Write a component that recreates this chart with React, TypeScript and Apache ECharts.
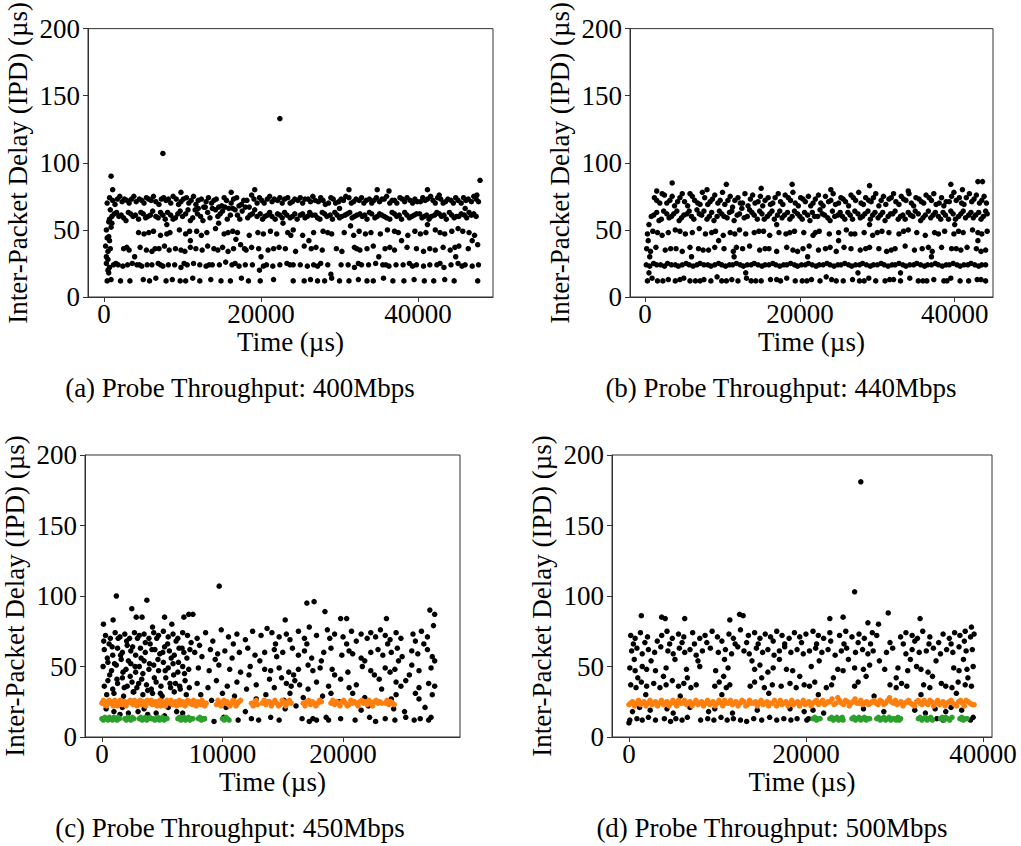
import React, { useEffect, useRef } from "react";
import * as echarts from "echarts";

const FONT = "'Liberation Serif', 'Times New Roman', serif";

const yTicks = [0, 50, 100, 150, 200];
const xTicksA = [0, 20000, 40000];
const xTicksB = [0, 20000, 40000];
const xTicksC = [0, 10000, 20000];
const xTicksD = [0, 20000, 40000];
const xTitle = "Time (µs)";
const yTitle = "Inter-Packet Delay (IPD) (µs)";
const captions = [
  "(a) Probe Throughput: 400Mbps",
  "(b) Probe Throughput: 440Mbps",
  "(c) Probe Throughput: 450Mbps",
  "(d) Probe Throughput: 500Mbps",
];

// (a) 400Mbps — time (µs), IPD (µs)
const a400: number[][] = [
  [400,70],[1100,72],[1700,73],[2300,71],[2900,72],[3500,73],[4100,71],[4800,72],[5400,74],[6000,72],[6600,71],[7300,73],[7900,72],[8500,70],[9200,73],[9800,71],[10500,74],[11100,72],[11700,69],[12400,73],[13000,71],[13700,70],[14300,73],[15000,68],[15600,72],[16200,70],[16900,74],[17500,69],[18200,72],[18800,76],[19500,70],[20100,72],[20800,73],[21400,71],[22100,72],[22700,70],[23400,74],[24000,71],[24700,72],[25300,70],[26000,73],[26600,75],[27300,71],[27900,72],[28600,70],[29200,73],[29900,71],[30500,72],[31200,74],[31800,71],[32500,72],[33100,70],[33800,73],[34400,72],[35100,71],[35700,73],[36400,70],[37000,72],[37700,74],[38300,71],[39000,72],[39600,73],[40300,71],[40900,72],[41600,75],[42200,70],[42900,73],[43500,71],[44200,72],[44800,74],[45500,70],[46100,72],[46800,71],[47400,73],
  [700,58],[1300,62],[1900,60],[2500,59],[3100,63],[3700,60],[4400,58],[5000,62],[5600,60],[6200,64],[6900,59],[7500,61],[8100,63],[8800,58],[9400,62],[10000,60],[10700,65],[11300,59],[11900,62],[12600,57],[13200,63],[13800,66],[14500,60],[15100,64],[15700,58],[16400,66],[17000,61],[17600,64],[18300,59],[18900,62],[19500,60],[20200,58],[20800,61],[21400,60],[22100,62],[22700,59],[23300,61],[24000,60],[24600,58],[25300,62],[25900,60],[26500,61],[27200,59],[27800,63],[28400,60],[29100,58],[29700,61],[30300,60],[31000,62],[31600,59],[32200,61],[32900,60],[33500,58],[34100,62],[34800,60],[35400,61],[36000,59],[36700,63],[37300,60],[37900,58],[38600,61],[39200,60],[39800,62],[40500,59],[41100,61],[41700,60],[42400,63],[43000,60],[43600,58],[44300,61],[44900,60],[45500,62],[46200,59],[46800,61],[47400,60],
  [300,50],[600,45],[900,52],[4400,48],[5100,47],[6300,49],[7200,46],[8400,48],[9600,50],[10400,47],[11800,49],[12400,46],[13100,48],[14200,51],[15300,47],[16400,49],[17000,48],[18500,46],[19600,48],[21200,49],[22000,47],[23400,48],[24100,50],[25300,46],[26700,48],[27900,49],[29000,47],[30600,48],[31800,46],[32500,49],[34000,48],[35200,47],[36100,50],[37500,48],[38700,46],[39600,49],[41000,48],[42200,50],[43400,47],[44300,49],[45100,51],[46500,48],[47200,46],
  [200,38],[500,34],[800,36],[2500,36],[3200,35],[4600,37],[5400,35],[6100,34],[7000,36],[7700,38],[8300,35],[9100,36],[10300,34],[11000,37],[11700,36],[12500,35],[13200,38],[14000,36],[15100,37],[15800,34],[16500,36],[17400,39],[18100,35],[18800,37],[19700,36],[20900,35],[22300,37],[23100,36],[24400,34],[25500,38],[26400,36],[27800,35],[29600,36],[30300,34],[31900,37],[32600,35],[33500,36],[34300,38],[35800,36],[37000,35],[38600,37],[39800,36],[40700,34],[41500,36],[43200,37],[44100,35],[45200,38],[46400,36],[47600,39],
  [300,25],[700,22],[1200,24],[1800,24],[2400,23],[3000,24],[3600,25],[4200,24],[4800,23],[5500,24],[6100,24],[6900,25],[7500,23],[8200,24],[9000,24],[9800,22],[10600,24],[11400,25],[12200,24],[13000,23],[13800,24],[14700,24],[15500,26],[16300,24],[17200,23],[18000,24],[18900,24],[19800,20],[20700,24],[21500,23],[22400,24],[23300,25],[24100,24],[25000,24],[25900,23],[26700,24],[27600,25],[28500,24],[30200,24],[31100,24],[31900,22],[32800,24],[33700,24],[34600,25],[35500,24],[36300,23],[37200,24],[38100,24],[38900,25],[39800,24],[40700,23],[41500,24],[42400,24],[43300,22],[44200,24],[45100,25],[46000,24],[46900,23],[47700,24],
  [400,12],[900,13],[2100,12],[3300,12],[5000,13],[5800,12],[6600,14],[7900,12],[8700,13],[9700,12],[10400,12],[11300,14],[12200,12],[13600,13],[14900,12],[16100,12],[17500,14],[18400,12],[19900,12],[21600,13],[24100,12],[25500,12],[26300,13],[27200,12],[28100,12],[29000,14],[30000,12],[31200,12],[32400,13],[33500,12],[34300,12],[35600,14],[36800,12],[38200,12],[39500,13],[40800,12],[42000,12],[43400,13],[44600,12],[47600,12],
  [600,18],[500,28],[700,42],[1000,55],[3900,30],[8000,54],[11000,42],[14600,55],[16800,43],[20000,30],[22800,55],[26100,42],[28900,17],[31400,53],[35000,30],[37900,42],[41200,54],[44800,30],[46900,42],[46000,66],[12000,66],[30000,66],
  [900,90],[1100,80],[7500,107],[9800,78],[16200,78],[19200,80],[22400,133],[31200,80],[34800,80],[36300,79],[41200,80],[42700,76],[47500,76],[47900,87],
];
const a400More: number[][] = [
  [700,74],[1400,69],[2000,75],[2600,73],[3200,70],[3800,75],[4500,73],[5100,70],[5700,73],[6300,75],[7000,69],[7600,74],[8200,73],[8800,75],[9500,69],[10100,73],[10800,70],[11400,75],[12000,72],[12700,67],[13300,74],[14000,72],[14600,67],[15300,74],[15900,66],[16500,73],[17200,68],[17800,72],[18500,67],[19100,73],[19800,74],[20400,70],[21100,75],[21700,73],[22400,74],[23000,73],[23700,70],[24300,73],[25000,74],[25600,73],[26300,71],[26900,72],[27600,74],[28200,69],[28900,74],[29500,70],[30200,73],[30800,75],[31500,70],[32100,73],[32800,74],[33400,72],[34100,70],[34700,74],[35400,73],[36000,75],[36700,72],[37300,70],[38000,73],[38600,74],[39300,70],[39900,71],[40600,74],[41200,73],[41900,72],[42500,74],[43200,70],[43800,73],[44500,70],[45100,72],[45800,74],[46400,73],[47100,75],[47700,71],
  [1000,60],[1600,63],[2200,61],[2800,57],[3400,62],[4000,61],[4700,63],[5300,59],[5900,61],[6600,60],[7200,63],[7800,58],[8500,61],[9100,59],[9700,64],[10400,62],[11000,57],[11600,65],[12300,60],[12900,67],[13500,59],[14200,65],[14800,62],[15400,67],[16100,61],[16700,65],[17300,58],[18000,67],[18600,61],[19200,65],[19900,62],[20500,60],[21100,63],[21800,58],[22400,61],[23000,63],[23700,59],[24300,62],[25000,61],[25600,59],[26200,63],[26900,61],[27500,58],[28100,62],[28800,61],[29400,63],[30000,59],[30700,61],[31300,63],[31900,60],[32600,62],[33200,61],[33800,63],[34500,59],[35100,62],[35700,60],[36400,58],[37000,62],[37600,61],[38300,63],[38900,59],[39500,61],[40200,62],[40800,60],[41400,58],[42100,61],[42700,62],[43300,61],[44000,63],[44600,59],[45200,60],[45900,61],[46500,63],[47100,62],
  [300,30],[400,44],[600,56],[800,65],[500,20],
  [5700,48],[8000,47],[10900,49],[15800,48],[20300,47],[23800,46],[28500,48],[33300,47],[37000,49],[40300,47],[42800,48],[45700,49],
  [2900,37],[6500,36],[9800,35],[14500,35],[17900,36],[21600,36],[27000,37],[32200,36],[36400,37],[42200,35],[44700,37],
  [1500,25],[4500,24],[7200,24],[10200,25],[13400,24],[16700,25],[20300,23],[23700,24],[27200,23],[32400,25],[35900,24],[39300,23],[42800,25],[45600,23],
];

// (b) 440Mbps
const b440: number[][] = [
  [1200,74],[1900,70],[2500,76],[3200,72],[3800,68],[4500,74],[5100,71],[5800,77],[6400,72],[7100,69],[7700,74],[8400,71],[9000,76],[9700,72],[10300,69],[11000,75],[11600,72],[12300,70],[12900,77],[13600,73],[14200,70],[14900,75],[15500,72],[16200,69],[16800,74],[17500,71],[18100,76],[18800,72],[19400,70],[20100,74],[20700,71],[21400,68],[22000,73],[22700,70],[23300,75],[24000,72],[24600,69],[25300,74],[25900,71],[26600,76],[27200,72],[27900,70],[28500,74],[29200,71],[29800,77],[30500,72],[31100,69],[31800,74],[32400,71],[33100,75],[33700,72],[34400,70],[35000,74],[35700,71],[36300,76],[37000,72],[37600,69],[38300,74],[38900,71],[39600,75],[40200,72],[40900,70],[41500,74],[42200,71],[42800,76],[43500,72],[44100,70],
  [800,60],[1500,63],[2100,58],[2800,62],[3400,60],[4100,64],[4700,59],[5400,62],[6000,60],[6700,65],[7300,61],[8000,58],[8600,63],[9300,60],[9900,62],[10600,59],[11200,64],[11900,61],[12500,66],[13200,60],[13800,63],[14500,58],[15100,62],[15800,60],[16400,64],[17100,61],[17700,59],[18400,63],[19000,60],[19700,62],[20300,58],[21000,61],[21600,63],[22300,60],[22900,62],[23600,59],[24200,64],[24900,61],[25500,60],[26200,63],[26800,58],[27500,62],[28100,60],[28800,64],[29400,61],[30100,59],[30700,63],[31400,60],[32000,62],[32700,58],[33300,61],[34000,63],[34600,60],[35300,62],[35900,59],[36600,64],[37200,61],[37900,60],[38500,63],[39200,58],[39800,62],[40500,60],[41100,64],[41800,61],[42400,59],[43100,63],[43700,60],[44200,62],
  [300,47],[1000,49],[2200,46],[3000,48],[3900,50],[5200,47],[6100,48],[7000,51],[7800,47],[9100,49],[10100,46],[11000,48],[12200,50],[13000,47],[14100,48],[15300,49],[16100,46],[17300,48],[18200,47],[19300,49],[20500,48],[21700,46],[22500,49],[23800,47],[25000,48],[26000,50],[27100,47],[28300,48],[29400,46],[30600,49],[31500,48],[32800,47],[34000,50],[35100,48],[36200,46],[37400,48],[38700,49],[39900,47],[41100,48],[42300,50],[43500,47],[44200,49],
  [200,36],[700,34],[1400,37],[2600,35],[4000,36],[4800,34],[5800,37],[6900,36],[8200,35],[9000,37],[10200,36],[11400,34],[12600,36],[13500,38],[14800,35],[16000,36],[17000,34],[18300,37],[19100,35],[20400,36],[21200,38],[22400,35],[23300,36],[24700,34],[25700,37],[26600,36],[27800,35],[29000,37],[30200,36],[31200,34],[32300,36],[33600,38],[34800,35],[35800,36],[37100,34],[38300,37],[39600,36],[40800,35],[41600,37],[42800,36],[44000,35],
  [150,24],[600,23],[1100,25],[1500,24],[2000,24],[2500,23],[2900,25],[3400,24],[3900,24],[4300,23],[4800,24],[5300,25],[5700,24],[6200,23],[6700,24],[7100,25],[7600,24],[8100,24],[8500,23],[9000,24],[9500,25],[9900,24],[10400,23],[10900,24],[11300,24],[11800,25],[12300,24],[12700,23],[13200,24],[13700,24],[14100,25],[14600,24],[15100,23],[15500,24],[16000,24],[16500,25],[16900,24],[17400,23],[17900,24],[18300,24],[18800,25],[19300,24],[19700,23],[20200,24],[20700,24],[21100,25],[21600,24],[22100,23],[22500,24],[23000,24],[23500,25],[23900,24],[24400,23],[24900,24],[25300,24],[25800,25],[26300,24],[26700,23],[27200,24],[27700,24],[28100,25],[28600,24],[29100,23],[29500,24],[30000,24],[30500,25],[30900,24],[31400,23],[31900,24],[32300,24],[32800,25],[33300,24],[33700,23],[34200,24],[34700,24],[35100,25],[35600,24],[36100,23],[36500,24],[37000,24],[37500,25],[37900,24],[38400,23],[38900,24],[39300,24],[39800,25],[40300,24],[40700,23],[41200,24],[41700,24],[42100,25],[42600,24],[43100,23],[43500,24],[44000,24],
  [300,12],[900,14],[1600,12],[3000,13],[3900,12],[5000,14],[5800,12],[6500,12],[7600,13],[8500,12],[9300,15],[10500,12],[11200,13],[12000,12],[13100,14],[14300,12],[15000,12],[16200,13],[17500,12],[18300,14],[19400,12],[20300,12],[21500,13],[22600,12],[23400,15],[24700,12],[25600,12],[26800,13],[27700,12],[28900,14],[29800,12],[31000,12],[32100,13],[33000,12],[34200,14],[35300,12],[36400,12],[37300,13],[38600,12],[39500,14],[40700,12],[41800,12],[42900,13],[44000,12],
  [500,18],[600,30],[400,42],[500,54],[6000,30],[9500,42],[13000,18],[17000,54],[21000,30],[25000,42],[29000,54],[33000,18],[37000,30],[40000,54],[43000,42],[11500,30],[27500,18],
  [3500,85],[10500,84],[19000,84],[29000,83],[39500,84],[43000,86],[43600,86],[1500,79],[8000,80],[15000,81],[24000,80],[34000,79],[41000,80],
];
const b440More: number[][] = [
  [1500,72],[2200,77],[2800,70],[3500,75],[4200,71],[4800,77],[5500,68],[6100,75],[6800,70],[7400,78],[8100,69],[8700,73],[9400,70],[10000,78],[10700,72],[11300,67],[12000,74],[12600,70],[13300,68],[13900,76],[14600,71],[15200,68],[15900,74],[16500,70],[17200,77],[17800,69],[18500,74],[19100,78],[19800,68],[20400,73],[21100,75],[21700,70],[22400,76],[23000,68],[23700,71],[24300,77],[25000,70],[25600,73],[26300,68],[26900,74],[27600,78],[28200,69],[28900,72],[29500,74],[30200,68],[30800,75],[31500,73],[32100,77],[32800,69],[33400,73],[34100,77],[34700,68],[35400,73],[36000,70],[36700,74],[37300,77],[38000,70],[38600,68],[39300,71],[39900,78],[40600,74],[41200,69],[41900,77],[42500,73],[43200,70],[43800,75],
  [1100,61],[1800,57],[2400,64],[3100,59],[3700,62],[4400,57],[5000,61],[5700,64],[6300,58],[7000,62],[7600,64],[8300,60],[8900,57],[9600,64],[10200,60],[10900,63],[11500,57],[12200,62],[12800,59],[13500,65],[14100,61],[14800,64],[15400,58],[16100,62],[16700,58],[17400,64],[18000,61],[18700,58],[19300,64],[20000,60],[20600,63],[21300,57],[21900,60],[22600,65],[23200,61],[23900,57],[24500,60],[25200,63],[25800,58],[26500,61],[27100,64],[27800,59],[28400,62],[29100,58],[29700,63],[30400,61],[31000,57],[31700,62],[32300,64],[33000,60],[33600,58],[34300,61],[34900,64],[35600,57],[36200,61],[36900,59],[37500,63],[38200,58],[38800,61],[39500,64],[40100,58],[40800,62],[41400,59],[42100,63],[42700,61],[43400,58],[44000,64],
  [1600,48],[4500,49],[8600,48],[11600,47],[14700,49],[18700,48],[22000,48],[26600,47],[30000,48],[33400,49],[37900,47],[40500,49],[43000,48],
  [3300,36],[7500,35],[11800,37],[15500,36],[19700,34],[23900,37],[28500,36],[31800,35],[36600,37],[40200,36],[43400,34],
  [2300,12],[4500,13],[7100,12],[9900,12],[13700,12],[17000,13],[20900,12],[24100,13],[28300,12],[31600,13],[35900,12],[39000,12],[43400,13],
];

// (c) 450Mbps
const c450Black: number[][] = [
  [300,72],[700,70],[1100,74],[1500,71],[1900,73],[2300,70],[2700,74],[3100,72],[3500,73],[3900,70],[4300,74],[4700,72],[5100,75],[5500,71],[5900,73],[6300,70],[6700,74],[7100,72],
  [200,62],[600,66],[900,58],[1300,63],[1700,60],[2100,65],[2400,61],[2800,58],[3200,63],[3600,60],[4000,66],[4400,62],[4800,59],[5200,64],[5600,61],[6000,58],[6400,63],[6800,60],[7300,62],
  [100,50],[500,53],[800,47],[1200,51],[1600,55],[2000,48],[2400,52],[2800,46],[3100,50],[3500,54],[3900,48],[4300,51],[4700,47],[5100,53],[5500,49],[5900,52],[6300,46],[6700,50],[7200,48],
  [200,36],[500,40],[900,34],[1300,38],[1700,42],[2100,36],[2500,39],[2900,35],[3300,41],[3700,37],[4100,34],[4500,39],[4900,36],[5300,42],[5700,35],[6100,38],[6500,34],[6900,40],
  [400,30],[1000,31],[1800,29],[2600,32],[3400,30],[4200,31],[5000,29],[6000,32],[7000,30],
  [1000,18],[1500,16],[2200,17],[3000,18],[3800,16],[4500,17],[5200,15],[6200,18],
  [130,80],[930,83],[1200,100],[2480,91],[2850,85],[3330,85],[3730,97],[5200,85],[6800,85],[7200,87],[7550,87],[4200,78],[5800,80],
  [150,68],[450,56],[650,44],[850,64],[1050,52],[1250,41],[1350,70],[1550,58],[1750,46],[1850,35],[2050,68],[2200,54],[2350,43],[2550,64],[2650,32],[2750,50],[2950,70],[3050,38],[3250,56],[3400,45],[3600,67],[3800,33],[3950,52],[4150,62],[4350,42],[4550,70],[4650,55],[4850,31],[5050,60],[5250,47],[5450,66],[5650,38],[5750,56],[5950,44],[6150,68],[6350,53],[6450,36],[6650,63],[6850,45],[7050,56],[7250,35],[7400,67],[350,20],[1700,21],[3500,20],[5500,21],[6700,17],
  [7900,70],[8600,74],[9200,68],[9900,76],[10500,71],[11200,73],[11900,69],[12500,75],[13200,72],[13700,77],[14100,74],[14700,71],[15300,73],[15600,69],[16300,75],[16800,70],[17200,78],[17800,72],[18700,76],[18900,70],[19300,73],[20000,71],[20700,75],[21100,68],[21500,73],[22000,70],[22300,74],[22700,71],[23100,76],[23500,72],[23900,69],[24400,74],[24800,70],[25800,73],[26000,68],[26500,75],[27000,71],[27500,79],
  [7700,60],[8300,57],[9000,62],[9600,59],[10200,61],[10800,56],[11400,60],[12100,63],[12700,58],[13500,60],[14300,62],[14500,57],[15000,60],[15800,63],[16300,58],[16800,61],[17400,56],[18400,60],[19000,63],[19900,58],[20500,61],[20800,59],[21500,56],[22300,60],[22900,62],[23300,58],[24000,60],[24500,63],[24900,57],[25700,61],[26200,59],[27000,62],[27400,57],
  [8000,49],[8900,47],[9700,51],[10600,48],[11500,46],[12300,50],[13500,48],[14000,47],[14700,49],[15500,46],[16300,48],[17100,51],[17500,47],[18100,49],[19100,48],[20400,46],[21600,50],[22300,47],[23500,49],[23900,46],[24300,48],[25700,51],[26300,47],[27300,49],
  [7900,38],[8800,35],[9500,40],[10400,36],[11200,39],[12000,34],[12800,37],[13900,41],[14300,35],[15300,38],[15700,36],[16000,40],[16400,37],[17100,34],[17800,39],[18800,36],[19800,41],[20500,35],[21100,37],[23200,34],[24400,39],[24800,36],[25200,40],[26300,35],[27100,38],[27600,36],
  [8200,30],[9100,26],[10300,21],[11000,29],[11900,18],[12800,27],[13600,30],[15100,26],[15200,20],[15600,31],[16100,22],[16700,28],[18300,29],[19700,25],[20800,31],[21500,19],[21800,28],[22100,22],[24000,27],[24200,20],[24400,30],[25100,18],[26300,27],[26800,21],[27400,30],
  [8500,13],[9300,11],[10100,14],[11300,12],[12400,13],[13000,12],[14000,14],[14700,12],[16600,13],[17200,11],[17500,13],[17800,12],[18600,14],[18800,12],[19800,13],[21000,12],[22200,14],[22700,11],[23500,13],[24300,12],[25200,14],[25900,12],[26400,13],[27100,12],[27300,14],
  [8100,65],[9400,55],[10900,66],[12200,44],[13100,54],[14400,66],[15900,44],[17000,66],[18200,54],[19300,44],[20300,66],[21800,54],[22600,44],[23700,66],[24600,54],[25500,44],[26700,66],[27600,54],[10000,31],[14900,42],[19000,31],[23000,41],[26000,31],
  [9730,107],[15200,83],[17000,95],[17600,96],[18500,89],[19800,84],[20300,84],[23600,84],[27200,90],[27600,87],
];
const c450Orange: number[][] = [
  [0,24],[250,23],[500,25],[700,24],[950,22],[1200,25],[1400,24],[1650,23],[1900,25],[2100,24],[2350,26],[2600,23],[2800,24],[3050,25],[3300,23],[3500,24],[3750,26],[4000,24],[4200,23],[4450,25],[4700,24],[4900,22],[5150,24],[5400,26],[5600,24],[5850,23],[6100,25],[6300,24],[6550,23],[6800,24],[7000,25],[7250,24],[7500,23],[7700,24],[7950,25],[8200,23],[8400,24],[8650,24],
  [9500,23],[9750,24],[10000,25],[10250,24],[10500,23],[10750,24],[11000,25],[11250,24],[11500,26],
  [12400,24],[12700,25],[12900,23],
  [13300,24],[13600,23],[13900,25],[14200,24],[14500,24],[14800,23],[15100,25],[15400,24],[15700,24],
  [16700,24],[17000,25],[17300,23],[17600,24],[17900,24],[18200,25],
  [19000,24],[19300,23],[19600,24],[19900,25],[20200,24],[20500,23],[20800,24],[21100,24],[21400,25],[21700,24],[22000,23],[22300,24],[22600,25],[22900,24],[23200,24],[23500,24],[23650,26],[23800,23],[23950,25],[24100,24],[24250,23],
  [125,26],[375,22],[600,26],[825,25],[1075,26],[1300,22],[1525,26],[1775,25],[2000,22],[2225,25],[2475,24],[2700,26],[2925,22],[3175,26],[3400,25],[3625,22],[3875,25],[4100,26],[4325,24],[4575,22],[4800,26],[5025,25],[5275,22],[5500,25],[5725,26],[5975,24],[6200,22],[6425,26],[6675,25],[6900,22],[7125,26],[7375,25],[7600,26],[7825,22],[8075,24],[8300,26],[8525,22],[9625,26],[9875,22],[10125,26],[10375,25],[10625,22],[10875,26],[11125,22],[11375,25],[12550,22],[12800,26],[13450,26],[13750,25],[14050,22],[14350,26],[14650,22],[14950,26],[15250,22],[15550,26],[16850,22],[17150,26],[17450,25],[17750,22],[18050,26],[19150,26],[19450,25],[19750,22],[20050,26],[20350,22],[20650,26],[20950,25],[21250,22],[21550,26],[21850,25],[22150,26],[22450,22],[22750,26],[23050,25],
];
const c450Green: number[][] = [
  [0,13],[250,14],[500,12],[750,13],[1000,14],[1250,12],[1450,13],[1900,13],[2150,14],[2400,12],[2650,13],[3100,13],[3350,12],[3600,14],[3850,13],[4100,13],[4400,12],[4650,14],[4900,13],[5150,12],[5400,13],[6300,13],[6550,12],[6800,14],[7050,13],[7300,12],[7550,13],[8000,13],[8250,12],[8500,13],[10000,13],[10300,14],[10550,12],
  [125,12],[375,13],[625,14],[875,12],[1125,13],[1350,14],[2025,12],[2275,13],[2525,14],[3225,14],[3475,13],[3725,12],[3975,14],[4250,13],[4525,13],[4775,12],[5025,14],[5275,13],[6425,14],[6675,13],[6925,12],[7175,14],[7425,13],[8125,14],[8375,13],[10150,12],[10400,13],
];

// (d) 500Mbps
const d500Black: number[][] = [
  [200,72],[700,70],[1300,74],[2100,71],[3700,72],[4300,75],[4900,70],[5600,73],[6200,71],[7200,74],[8000,70],[8600,72],[9400,75],[10000,71],[11300,73],[11800,70],[12600,76],[13500,72],[14200,74],[14800,70],[15400,73],[16000,71],[16700,75],[17300,72],[18100,70],[18700,74],[19300,71],[20000,73],[20800,75],[21400,72],[22000,70],[22700,74],[23800,72],[24500,75],[25200,71],[26000,73],[26600,70],[27500,74],[28000,72],[30700,71],[31300,74],[32000,72],[32600,70],[33200,75],[34000,71],[35500,73],[36200,70],[36800,74],[37400,72],[38000,75],[38600,71],[39000,73],
  [300,61],[900,63],[1500,59],[2200,62],[2900,60],[3600,64],[4400,61],[5000,59],[5700,63],[6300,60],[6900,62],[7600,58],[8300,61],[9200,63],[10100,60],[10900,62],[11600,59],[12300,64],[13000,61],[13600,59],[14400,63],[15100,60],[15700,62],[16400,58],[17000,61],[17600,64],[18300,60],[19000,62],[19700,59],[20400,61],[21100,63],[21800,60],[22500,62],[23300,58],[24000,61],[24600,63],[25600,60],[26400,62],[27000,59],[27600,61],[29100,60],[29800,63],[31300,59],[32000,62],[32800,60],[33600,61],[34400,63],[35200,59],[35900,62],[36600,60],[37300,64],[38100,61],[38800,62],
  [100,49],[700,47],[1500,50],[2000,48],[3000,47],[4200,49],[6500,48],[8000,50],[9800,47],[11200,49],[14200,48],[14800,51],[15700,46],[16300,49],[17800,48],[18500,47],[20600,50],[23600,48],[24200,47],[25500,49],[26500,48],[27200,51],[28900,48],[30400,49],[31500,47],[32500,50],[33000,48],[33800,46],[36700,49],[37300,47],[38200,48],[38900,50],
  [200,37],[800,35],[1400,39],[2000,36],[2800,38],[3500,35],[4200,37],[4900,40],[5600,36],[6200,38],[7000,35],[7600,37],[9700,36],[10200,39],[11000,35],[11400,37],[13700,36],[14200,39],[15300,35],[16200,37],[17200,36],[18200,38],[18900,35],[19800,37],[20400,36],[21000,39],[22300,35],[22900,37],[25500,36],[25900,39],[29500,37],[30200,35],[30800,38],[31400,36],[33300,37],[34000,35],[35300,38],[35800,36],[36500,35],[37200,39],[38000,37],[38700,36],
  [400,18],[1200,21],[2400,19],[4300,20],[5000,17],[6900,21],[9000,18],[9700,20],[11700,17],[14500,19],[18200,20],[19800,18],[20800,19],[22000,17],[26500,20],[28800,18],[32300,19],[33500,17],[34600,20],[35800,18],[36400,21],[37600,19],
  [0,10],[100,12],[900,13],[1500,12],[2200,14],[3000,12],[4000,13],[4700,11],[5300,13],[6000,12],[6600,14],[8100,12],[8900,13],[9600,12],[10400,14],[11100,12],[11800,13],[12600,12],[13300,11],[14100,13],[15000,12],[15900,14],[16700,12],[17500,13],[18300,12],[19000,13],[20100,12],[20300,13],[34800,13],[35500,12],[37500,13],[38600,12],[38900,14],
  [500,66],[1800,67],[3200,68],[4600,66],[6000,67],[7400,66],[8800,67],[10500,68],[12000,66],[13300,67],[14600,66],[16300,68],[17600,66],[19500,67],[21200,66],[22800,68],[24300,66],[25900,67],[27300,66],[29500,67],[31000,66],[32300,68],[33900,66],[35000,67],[36400,66],[37900,68],
  [600,55],[2500,54],[5200,55],[7800,54],[10800,55],[13900,54],[17000,55],[21500,54],[24800,55],[28300,54],[31800,55],[34700,54],[37800,55],
  [1000,42],[3900,43],[6600,42],[10700,43],[15000,42],[19300,43],[23100,42],[26800,43],[30200,42],[34300,43],[38300,42],
  [1900,30],[5800,29],[10500,30],[15800,31],[21400,30],[27700,29],[33000,30],[37000,31],
  [1400,86],[3700,85],[4100,84],[6300,84],[11400,83],[12500,87],[12900,86],[22700,84],[24200,85],[25500,103],[26200,181],[27000,81],[28200,80],[29300,88],[32900,84],[38700,78],
];
const d500Orange: number[][] = [
  [0,23],[400,25],[850,24],[1300,23],[1700,25],[2150,24],[2600,23],[3000,25],[3450,24],[3900,23],[4300,25],[4750,24],[5200,24],[5600,26],[6050,24],[6500,23],[6900,25],[7350,24],[7800,23],[8200,25],[8650,24],[9100,23],[9500,25],[9950,24],[10400,24],[10800,26],[11250,24],[11700,23],[12100,25],[12550,24],[13000,25],[13400,23],[13850,24],[14300,25],[14700,24],[15150,23],[15600,25],[16000,24],[16450,26],[16900,24],[17300,23],[17750,25],[18200,24],[18600,23],[19050,25],[19500,24],[19900,23],[20350,25],[20800,24],[21200,26],[21650,24],[22100,23],[22500,25],[22950,27],[23400,24],[23800,26],[24250,23],[24700,25],[25100,24],[25550,27],[26000,24],[26400,23],[26850,25],[27300,24],[27700,26],[28150,23],[28600,25],[29000,24],[29450,28],[29900,24],[30300,23],[30750,25],[31200,24],[31600,26],[32050,23],[32500,25],[32900,24],[33350,26],[33800,23],[34200,25],[34650,24],[35100,23],[35500,25],[35950,24],[36400,26],[36800,23],[37250,25],[37700,24],[38100,26],[38550,24],[39000,23],
  [200,24],[625,22],[1075,26],[1500,24],[1925,22],[2375,26],[2800,24],[3225,22],[3675,26],[4100,24],[4525,22],[4975,26],[5400,22],[5825,24],[6275,26],[6700,24],[7125,22],[7575,26],[8000,24],[8425,22],[8875,26],[9300,24],[9725,22],[10175,26],[10600,22],[11025,24],[11475,26],[11900,24],[12325,22],[12775,26],[13200,22],[13625,26],[14075,24],[14500,22],[14925,26],[15375,24],[15800,22],[16225,24],[16675,22],[17100,26],[17525,24],[17975,22],[18400,26],[18825,24],[19275,22],[19700,26],[20125,24],[20575,22],[21000,25],[21425,23],[21875,26],[22300,24],[22725,25],[23175,23],[23600,28],[24025,24],[24475,26],[24900,22],[25325,25],[25775,24],[26200,26],[26625,24],[27075,23],[27500,25],[27925,24],[28375,26],[28800,23],[29225,26],[29675,25],[30100,26],[30525,24],[30975,22],[31400,25],[31825,24],[32275,22],[32700,26],[33125,23],[33575,24],[34000,26],[34425,22],[34875,26],[35300,24],[35725,22],[36175,25],[36600,24],[37025,22],[37475,26],[37900,22],[38325,25],[38775,23],
];
const d500Green: number[][] = [
  [20800,13],[21200,12],[21600,13],[22700,13],[23100,12],[23500,14],[23900,13],[24200,12],[25200,13],[25600,12],[26000,14],[26400,13],[26800,12],[27200,13],[28000,13],[28400,12],[28800,14],[29200,13],[29600,12],[30000,13],[30400,14],[30700,13],[32700,13],[33100,12],[33500,14],[33900,13],[34300,12],[35200,13],[35600,12],[36000,13],[36500,14],[37400,13],[37800,12],[38200,13],
  [21000,14],[21400,13],[22900,14],[23300,13],[23700,12],[24100,14],[25400,14],[25800,13],[26200,12],[26600,14],[27000,13],[28200,14],[28600,13],[29000,12],[29400,14],[29800,13],[30200,12],[30550,12],[32900,14],[33300,13],[33700,12],[34100,14],[35400,14],[35800,14],[36250,12],[37600,14],[38000,13],
];

const BLACK = "#000000";
const ORANGE = "#ff7f0e";
const GREEN = "#2ca02c";
const AXIS = "#333333";
const FS = 27;

export default function App() {
  const ref = useRef<HTMLDivElement>(null);
  useEffect(() => {
    document.body.style.margin = "0";
    if (!ref.current) return;
    const chart = echarts.init(ref.current, undefined, { renderer: "svg" });

    const grids = [
      { left: 88, top: 14, width: 405, height: 283 },
      { left: 630, top: 14, width: 363, height: 283 },
      { left: 76, top: 455, width: 384, height: 282 },
      { left: 612, top: 455, width: 380, height: 282 },
    ];
    const xr = [
      { min: -2040, max: 49550, ticks: xTicksA },
      { min: -1950, max: 44950, ticks: xTicksB },
      { min: -1400, max: 29700, ticks: xTicksC },
      { min: -1915, max: 41026, ticks: xTicksD },
    ];
    const textStyle = { fontFamily: FONT, fontSize: FS, color: "#000" };

    const xAxis = xr.map((r, i) => ({
      type: "value",
      gridIndex: i,
      min: r.min,
      max: r.max,
      axisLine: { show: true, onZero: false, lineStyle: { color: AXIS, width: 1 } },
      axisTick: { show: true, length: 5, customValues: r.ticks, lineStyle: { color: AXIS } },
      axisLabel: { customValues: r.ticks, margin: 3, ...textStyle, formatter: (v: number) => String(v) },
      splitLine: { show: false },
      name: xTitle,
      nameLocation: "middle",
      nameGap: 31,
      nameTextStyle: textStyle,
    }));
    const yAxis = grids.map((_, i) => ({
      type: "value",
      gridIndex: i,
      min: 0,
      max: 200,
      interval: 50,
      axisLine: { show: true, onZero: false, lineStyle: { color: AXIS, width: 1 } },
      axisTick: { show: true, length: 5, lineStyle: { color: AXIS } },
      axisLabel: { margin: 8, ...textStyle, customValues: yTicks },
      splitLine: { show: false },
      name: yTitle,
      nameLocation: "middle",
      nameGap: 57,
      nameTextStyle: textStyle,
    }));

    const sc = (data: number[][], idx: number, color: string) => ({
      type: "scatter",
      xAxisIndex: idx,
      yAxisIndex: idx,
      data,
      symbolSize: 5.5,
      itemStyle: { color, opacity: 1 },
      silent: true,
    });

    chart.setOption({
      animation: false,
      grid: grids.map((g) => ({ ...g, show: true, borderColor: AXIS, borderWidth: 1, containLabel: false })),
      xAxis,
      yAxis,
      series: [
        sc([...a400, ...a400More], 0, BLACK),
        sc([...b440, ...b440More], 1, BLACK),
        sc(c450Black, 2, BLACK),
        sc(c450Orange, 2, ORANGE),
        sc(c450Green, 2, GREEN),
        sc(d500Black, 3, BLACK),
        sc(d500Orange, 3, ORANGE),
        sc(d500Green, 3, GREEN),
      ],
      graphic: [
        { x: 240, y: 388 },
        { x: 781, y: 388 },
        { x: 230, y: 828 },
        { x: 772, y: 828 },
      ].map((p, i) => ({
        type: "text",
        x: p.x,
        y: p.y,
        style: { text: captions[i], font: `${FS}px ${FONT}`, fill: "#000", textAlign: "center", textVerticalAlign: "middle" },
      })),
    });
    return () => chart.dispose();
  }, []);
  return <div ref={ref} style={{ width: 1021, height: 846 }} />;
}
